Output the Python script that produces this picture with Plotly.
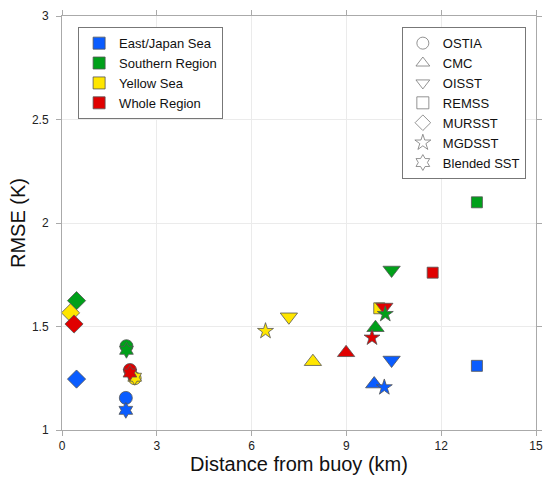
import plotly.graph_objects as go

# regions (colour groups)
regions = ["East/Japan Sea", "Southern Region", "Yellow Sea", "Whole Region"]
region_colors = ["#0a5cff", "#00a01a", "#ffe600", "#e00000"]

# products (marker groups), values per region in the order above
products = ["OSTIA", "CMC", "OISST", "REMSS", "MURSST", "MGDSST", "Blended SST"]
symbols = ["circle", "triangle-up", "triangle-down", "square", "diamond", "star", "hexagram"]
sizes = [13, 15, 15, 11, 14, 12, 12]

dist = {
    "OSTIA":       [2.02, 2.04, 2.30, 2.15],
    "CMC":         [9.88, 9.92, 7.94, 8.99],
    "OISST":       [10.43, 10.43, 7.18, 10.20],
    "REMSS":       [13.13, 13.13, 10.04, 11.73],
    "MURSST":      [0.46, 0.46, 0.27, 0.38],
    "MGDSST":      [10.20, 10.23, 6.44, 9.81],
    "Blended SST": [2.02, 2.04, 2.30, 2.15],
}
rmse = {
    "OSTIA":       [1.155, 1.405, 1.250, 1.290],
    "CMC":         [1.222, 1.494, 1.330, 1.373],
    "OISST":       [1.338, 1.773, 1.547, 1.594],
    "REMSS":       [1.310, 2.100, 1.588, 1.760],
    "MURSST":      [1.246, 1.625, 1.566, 1.512],
    "MGDSST":      [1.206, 1.560, 1.478, 1.446],
    "Blended SST": [1.095, 1.385, 1.255, 1.275],
}

x_ticks = [0, 3, 6, 9, 12, 15]
y_ticks = [1, 1.5, 2, 2.5, 3]

fig = go.Figure()

# data points (squares go under the OISST triangles, as in the original)
draw_order = [0, 1, 3, 2, 4, 5, 6]
for i in draw_order:
    p = products[i]
    fig.add_trace(go.Scatter(
        x=dist[p], y=rmse[p], mode="markers", showlegend=False, cliponaxis=False,
        marker=dict(symbol=symbols[i], size=sizes[i], color=region_colors,
                    line=dict(color="#555555", width=0.8)),
    ))

# legend 1: colour swatches
for r, c in zip(regions, region_colors):
    fig.add_trace(go.Bar(x=[None], y=[None], name=r, legend="legend",
                         marker=dict(color=c, line=dict(color="#555555", width=0.8))))

# legend 2: open symbols
for p, sym in zip(products, symbols):
    fig.add_trace(go.Scatter(x=[None], y=[None], name=p, mode="markers", legend="legend2",
                             marker=dict(symbol=sym + "-open", size=12, color="#777777",
                                         line=dict(width=0.8))))

axis_style = dict(
    showline=True, linecolor="#aaaaaa", linewidth=1, mirror="allticks",
    ticks="outside", ticklen=5, tickcolor="#aaaaaa",
    showgrid=True, gridcolor="#ebebeb", gridwidth=1, zeroline=False,
    tickfont=dict(size=12, color="#222222"), automargin=False,
)

fig.update_layout(
    width=550, height=490,
    margin=dict(l=62, r=14, t=16, b=60),
    paper_bgcolor="white", plot_bgcolor="white",
    font=dict(family="Liberation Sans, Arial, sans-serif", color="#111111"),
    xaxis=dict(range=[0, 15], tickvals=x_ticks,
               title=dict(text="Distance from buoy (km)", font=dict(size=20), standoff=4),
               **axis_style),
    yaxis=dict(range=[1, 3], tickvals=y_ticks, ticklabelstandoff=5,
               title=dict(text="RMSE (K)", font=dict(size=20), standoff=0),
               **axis_style),
    legend=dict(x=0.034, y=0.973, xanchor="left", yanchor="top",
                bgcolor="white", bordercolor="#777777", borderwidth=1,
                font=dict(size=13), tracegroupgap=0, itemwidth=30),
    legend2=dict(x=0.717, y=0.973, xanchor="left", yanchor="top",
                 bgcolor="white", bordercolor="#777777", borderwidth=1,
                 font=dict(size=13), tracegroupgap=0, itemwidth=30),
)

# drop the browser's default page margin so the figure sits at the window corner
fig.write_html("out.html", config={"displayModeBar": False},
               post_script="document.body.style.margin='0';")
